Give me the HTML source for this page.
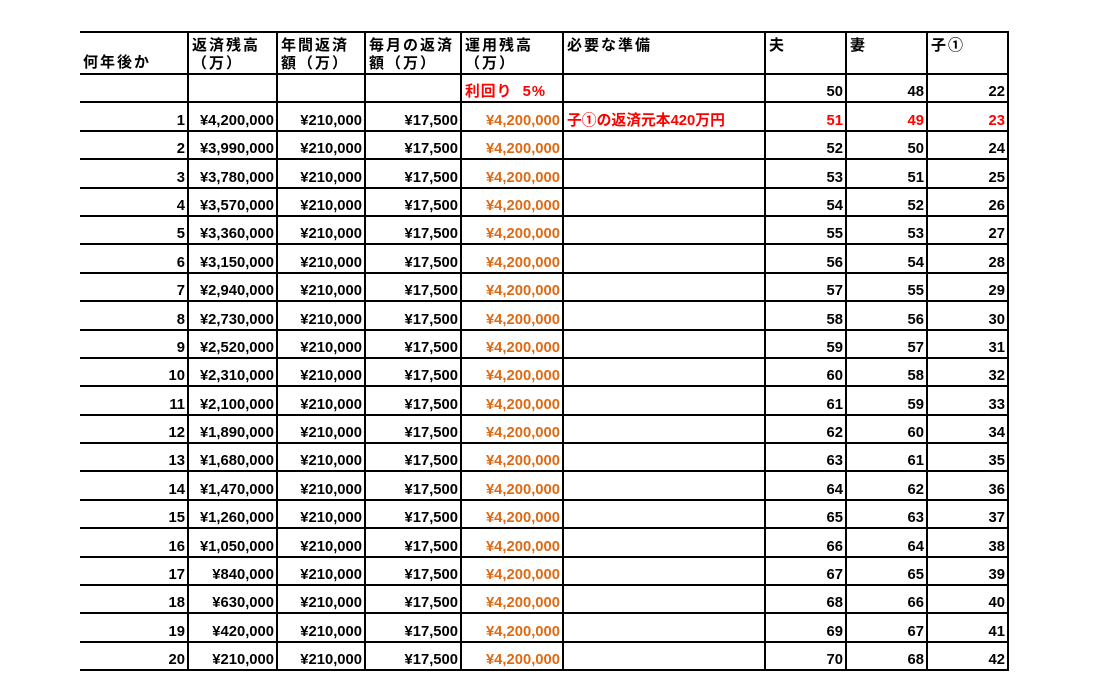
<!DOCTYPE html>
<html><head><meta charset="utf-8"><style>
body{margin:0;width:1097px;height:699px;background:#fff;overflow:hidden;font-family:"Liberation Sans","Noto Sans CJK JP",sans-serif;}
table{position:absolute;left:80px;top:31px;border-collapse:collapse;table-layout:fixed;}
td{border:2px solid #000;padding:0 2px 0 3px;font-size:14.8px;font-weight:bold;height:25.4px;line-height:16px;text-align:right;vertical-align:bottom;padding-bottom:1px;white-space:nowrap;overflow:hidden;}
td.c1{border-left:none;}
tr.h td{height:34px;text-align:left;vertical-align:top;padding-top:4px;padding-bottom:0;letter-spacing:2px;line-height:18px;font-size:15px;}
tr.h td.c1{vertical-align:bottom;padding-bottom:1px;}
.o{color:#dd6a14;}
.r{color:#ff0000;}
td.l{text-align:left;}
</style></head><body>
<table>
<colgroup><col style="width:108px"><col style="width:89px"><col style="width:88px"><col style="width:96px"><col style="width:102px"><col style="width:202px"><col style="width:81px"><col style="width:81px"><col style="width:81px"></colgroup>
<tr class="h"><td class="c1">何年後か</td><td>返済残高<br>（万）</td><td>年間返済<br>額（万）</td><td>毎月の返済<br>額（万）</td><td>運用残高<br>（万）</td><td>必要な準備</td><td>夫</td><td>妻</td><td>子①</td></tr>
<tr><td class="c1"></td><td></td><td></td><td></td><td class="l r" style="letter-spacing:1px">利回り&nbsp;&nbsp;5%</td><td></td><td>50</td><td>48</td><td>22</td></tr>
<tr><td class="c1">1</td><td>¥4,200,000</td><td>¥210,000</td><td>¥17,500</td><td class="o">¥4,200,000</td><td class="l r">子①の返済元本420万円</td><td class="r">51</td><td class="r">49</td><td class="r">23</td></tr>
<tr><td class="c1">2</td><td>¥3,990,000</td><td>¥210,000</td><td>¥17,500</td><td class="o">¥4,200,000</td><td></td><td>52</td><td>50</td><td>24</td></tr>
<tr><td class="c1">3</td><td>¥3,780,000</td><td>¥210,000</td><td>¥17,500</td><td class="o">¥4,200,000</td><td></td><td>53</td><td>51</td><td>25</td></tr>
<tr><td class="c1">4</td><td>¥3,570,000</td><td>¥210,000</td><td>¥17,500</td><td class="o">¥4,200,000</td><td></td><td>54</td><td>52</td><td>26</td></tr>
<tr><td class="c1">5</td><td>¥3,360,000</td><td>¥210,000</td><td>¥17,500</td><td class="o">¥4,200,000</td><td></td><td>55</td><td>53</td><td>27</td></tr>
<tr><td class="c1">6</td><td>¥3,150,000</td><td>¥210,000</td><td>¥17,500</td><td class="o">¥4,200,000</td><td></td><td>56</td><td>54</td><td>28</td></tr>
<tr><td class="c1">7</td><td>¥2,940,000</td><td>¥210,000</td><td>¥17,500</td><td class="o">¥4,200,000</td><td></td><td>57</td><td>55</td><td>29</td></tr>
<tr><td class="c1">8</td><td>¥2,730,000</td><td>¥210,000</td><td>¥17,500</td><td class="o">¥4,200,000</td><td></td><td>58</td><td>56</td><td>30</td></tr>
<tr><td class="c1">9</td><td>¥2,520,000</td><td>¥210,000</td><td>¥17,500</td><td class="o">¥4,200,000</td><td></td><td>59</td><td>57</td><td>31</td></tr>
<tr><td class="c1">10</td><td>¥2,310,000</td><td>¥210,000</td><td>¥17,500</td><td class="o">¥4,200,000</td><td></td><td>60</td><td>58</td><td>32</td></tr>
<tr><td class="c1">11</td><td>¥2,100,000</td><td>¥210,000</td><td>¥17,500</td><td class="o">¥4,200,000</td><td></td><td>61</td><td>59</td><td>33</td></tr>
<tr><td class="c1">12</td><td>¥1,890,000</td><td>¥210,000</td><td>¥17,500</td><td class="o">¥4,200,000</td><td></td><td>62</td><td>60</td><td>34</td></tr>
<tr><td class="c1">13</td><td>¥1,680,000</td><td>¥210,000</td><td>¥17,500</td><td class="o">¥4,200,000</td><td></td><td>63</td><td>61</td><td>35</td></tr>
<tr><td class="c1">14</td><td>¥1,470,000</td><td>¥210,000</td><td>¥17,500</td><td class="o">¥4,200,000</td><td></td><td>64</td><td>62</td><td>36</td></tr>
<tr><td class="c1">15</td><td>¥1,260,000</td><td>¥210,000</td><td>¥17,500</td><td class="o">¥4,200,000</td><td></td><td>65</td><td>63</td><td>37</td></tr>
<tr><td class="c1">16</td><td>¥1,050,000</td><td>¥210,000</td><td>¥17,500</td><td class="o">¥4,200,000</td><td></td><td>66</td><td>64</td><td>38</td></tr>
<tr><td class="c1">17</td><td>¥840,000</td><td>¥210,000</td><td>¥17,500</td><td class="o">¥4,200,000</td><td></td><td>67</td><td>65</td><td>39</td></tr>
<tr><td class="c1">18</td><td>¥630,000</td><td>¥210,000</td><td>¥17,500</td><td class="o">¥4,200,000</td><td></td><td>68</td><td>66</td><td>40</td></tr>
<tr><td class="c1">19</td><td>¥420,000</td><td>¥210,000</td><td>¥17,500</td><td class="o">¥4,200,000</td><td></td><td>69</td><td>67</td><td>41</td></tr>
<tr><td class="c1">20</td><td>¥210,000</td><td>¥210,000</td><td>¥17,500</td><td class="o">¥4,200,000</td><td></td><td>70</td><td>68</td><td>42</td></tr>
</table>
</body></html>
